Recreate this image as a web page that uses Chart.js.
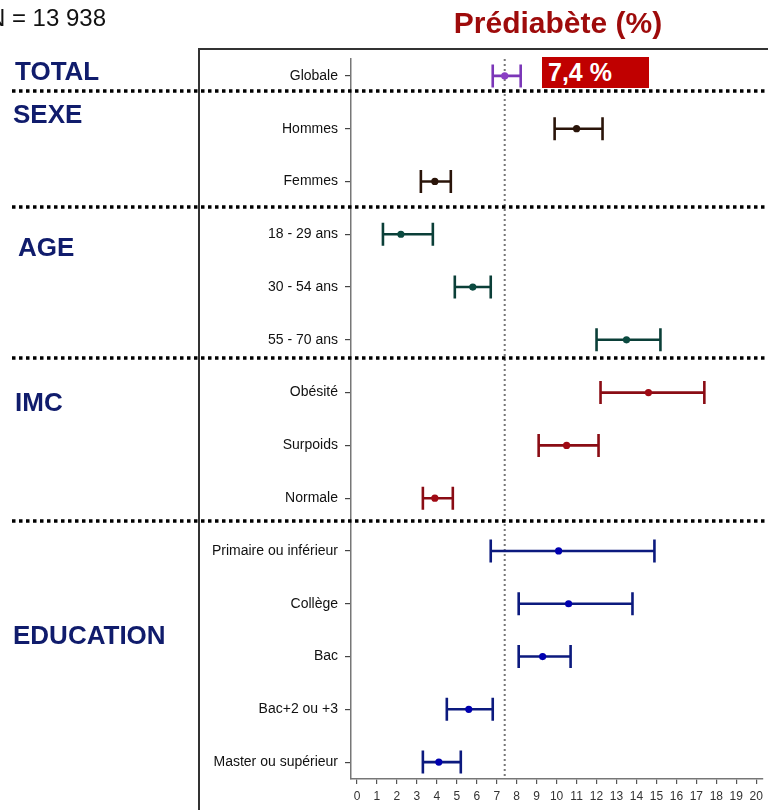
<!DOCTYPE html>
<html lang="fr">
<head>
<meta charset="utf-8">
<title>Prédiabète (%)</title>
<script src="https://cdn.jsdelivr.net/npm/chart.js@4/dist/chart.umd.min.js"></script>
<style>
  html, body { margin: 0; padding: 0; background: #fff; overflow: hidden; }
  #wrap { position: relative; width: 768px; height: 810px; }
  #chart { position: absolute; left: 0; top: 0; }
  .txt { position: absolute; white-space: nowrap; font-family: "Liberation Sans", Arial, sans-serif; }
  .sec { font-weight: bold; font-size: 26px; color: #101c6c; line-height: 1; }
  #sample { right: 662px; top: 6px; font-size: 24px; color: #111; line-height: 1; }
  #title { left: 558px; top: 8px; transform: translateX(-50%); font-weight: bold; font-size: 30px; color: #9e0b0b; line-height: 1; }
  #overall { left: 542px; top: 57px; width: 107px; height: 31px; background: #c00000; color: #fff;
             font-weight: bold; font-size: 25px; line-height: 31px; padding-left: 6px; box-sizing: border-box; }
</style>
</head>
<body>
<div id="wrap">
  <canvas id="chart" width="768" height="810"></canvas>
  <div class="txt" id="sample">N = 13 938</div>
  <div class="txt" id="title">Prédiabète (%)</div>
  <div class="txt" id="overall"></div>
  <div class="txt sec" style="left:15px;top:58px;">TOTAL</div>
  <div class="txt sec" style="left:13px;top:101px;">SEXE</div>
  <div class="txt sec" style="left:18px;top:234px;">AGE</div>
  <div class="txt sec" style="left:15px;top:389px;">IMC</div>
  <div class="txt sec" style="left:13px;top:622px;">EDUCATION</div>
</div>
<script>
// Prevalence of prediabetes (%) with 95% confidence intervals, by subgroup
const categories = ['Globale', 'Hommes', 'Femmes', '18 - 29 ans', '30 - 54 ans', '55 - 70 ans',
  'Obésité', 'Surpoids', 'Normale', 'Primaire ou inférieur', 'Collège', 'Bac',
  'Bac+2 ou +3', 'Master ou supérieur'];
const estimates = [7.4, 11.0, 3.9, 2.2, 5.8, 13.5, 14.6, 10.5, 3.9, 10.1, 10.6, 9.3, 5.6, 4.1];
const lowerCI   = [6.8, 9.9, 3.2, 1.3, 4.9, 12.0, 12.2, 9.1, 3.3, 6.7, 8.1, 8.1, 4.5, 3.3];
const upperCI   = [8.2, 12.3, 4.7, 3.8, 6.7, 15.2, 17.4, 12.1, 4.8, 14.9, 13.8, 10.7, 6.8, 5.2];
const groups    = ['total', 'sexe', 'sexe', 'age', 'age', 'age', 'imc', 'imc', 'imc',
  'edu', 'edu', 'edu', 'edu', 'edu'];
const xTicks = [0, 1, 2, 3, 4, 5, 6, 7, 8, 9, 10, 11, 12, 13, 14, 15, 16, 17, 18, 19, 20];
const overallValue = estimates[0];

// Colours per subgroup: bar colour and dot colour
const barColor = { total: '#7b36b8', sexe: '#2a1409', age: '#0b3f38', imc: '#8a0c14', edu: '#0c1a7e' };
const dotColor = { total: '#8a3fc4', sexe: '#2a1409', age: '#0b4a40', imc: '#a00a14', edu: '#0000b0' };
// Dotted separators between subgroup blocks (in row units)
const separators = [0.29, 2.48, 5.34, 8.43];

document.getElementById('overall').textContent =
  overallValue.toFixed(1).replace('.', ',') + ' %';

const tickFont = { family: '"Liberation Sans", Arial, sans-serif', size: 12 };
const catFont = { family: '"Liberation Sans", Arial, sans-serif', size: 14 };

const framePlugin = {
  id: 'frame',
  beforeDraw(chart) {
    const ctx = chart.ctx;
    ctx.save();
    ctx.strokeStyle = '#333';
    ctx.lineWidth = 2;
    ctx.beginPath();
    ctx.moveTo(199, 810);
    ctx.lineTo(199, 49);
    ctx.lineTo(768, 49);
    ctx.stroke();
    ctx.restore();
  }
};

const refLinePlugin = {
  id: 'refLine',
  beforeDatasetsDraw(chart) {
    const { ctx, chartArea, scales } = chart;
    const x = scales.x.getPixelForValue(overallValue);
    ctx.save();
    ctx.strokeStyle = '#777';
    ctx.lineWidth = 2;
    ctx.setLineDash([2, 3]);
    ctx.beginPath();
    ctx.moveTo(x, chartArea.top);
    ctx.lineTo(x, chartArea.bottom);
    ctx.stroke();
    ctx.restore();
  }
};

const errorBarPlugin = {
  id: 'errorBars',
  beforeDatasetsDraw(chart) {
    const { ctx, scales } = chart;
    const cap = 11.5;
    ctx.save();
    ctx.lineWidth = 2.6;
    ctx.lineCap = 'butt';
    categories.forEach((_, i) => {
      const y = scales.y.getPixelForValue(i);
      const x0 = scales.x.getPixelForValue(lowerCI[i]);
      const x1 = scales.x.getPixelForValue(upperCI[i]);
      ctx.strokeStyle = barColor[groups[i]];
      ctx.beginPath();
      ctx.moveTo(x0, y); ctx.lineTo(x1, y);
      ctx.moveTo(x0, y - cap); ctx.lineTo(x0, y + cap);
      ctx.moveTo(x1, y - cap); ctx.lineTo(x1, y + cap);
      ctx.stroke();
    });
    ctx.restore();
  }
};

const separatorPlugin = {
  id: 'separators',
  afterDraw(chart) {
    const { ctx, scales } = chart;
    ctx.save();
    ctx.strokeStyle = '#000';
    ctx.lineWidth = 3.5;
    ctx.setLineDash([3.5, 3.5]);
    separators.forEach(v => {
      const y = Math.round(scales.y.getPixelForValue(v));
      ctx.beginPath();
      ctx.moveTo(12, y);
      ctx.lineTo(768, y);
      ctx.stroke();
    });
    ctx.restore();
  }
};

new Chart(document.getElementById('chart'), {
  type: 'scatter',
  data: {
    datasets: [{
      data: estimates.map((v, i) => ({ x: v, y: i })),
      pointRadius: 3.6,
      pointHoverRadius: 3.6,
      pointBorderWidth: 0,
      pointBackgroundColor: groups.map(g => dotColor[g]),
      pointBorderColor: groups.map(g => dotColor[g])
    }]
  },
  options: {
    responsive: false,
    animation: false,
    devicePixelRatio: 1,
    layout: { padding: { left: 0, top: 59, right: 5.4, bottom: 0 } },
    plugins: { legend: { display: false }, tooltip: { enabled: false } },
    scales: {
      x: {
        type: 'linear',
        min: -0.3,
        max: 20.3,
        afterBuildTicks(scale) { scale.ticks = xTicks.map(v => ({ value: v })); },
        afterFit(scale) { scale.height = 31; },
        grid: { drawOnChartArea: false, drawTicks: true, tickLength: 5, color: '#555', lineWidth: 1.2 },
        border: { display: true, color: '#777', width: 1.5 },
        ticks: { color: '#333', font: tickFont, padding: 5, maxRotation: 0, autoSkip: false }
      },
      y: {
        type: 'linear',
        reverse: true,
        min: -0.32,
        max: 13.32,
        afterBuildTicks(scale) { scale.ticks = categories.map((_, i) => ({ value: i })); },
        afterFit(scale) { scale.width = 351; },
        grid: { drawOnChartArea: false, drawTicks: true, tickLength: 6, color: '#444', lineWidth: 1.2 },
        border: { display: true, color: '#777', width: 1.5 },
        ticks: {
          color: '#111',
          font: catFont,
          padding: 7,
          autoSkip: false,
          callback: v => categories[v]
        }
      }
    }
  },
  plugins: [framePlugin, refLinePlugin, errorBarPlugin, separatorPlugin]
});
</script>
</body>
</html>
